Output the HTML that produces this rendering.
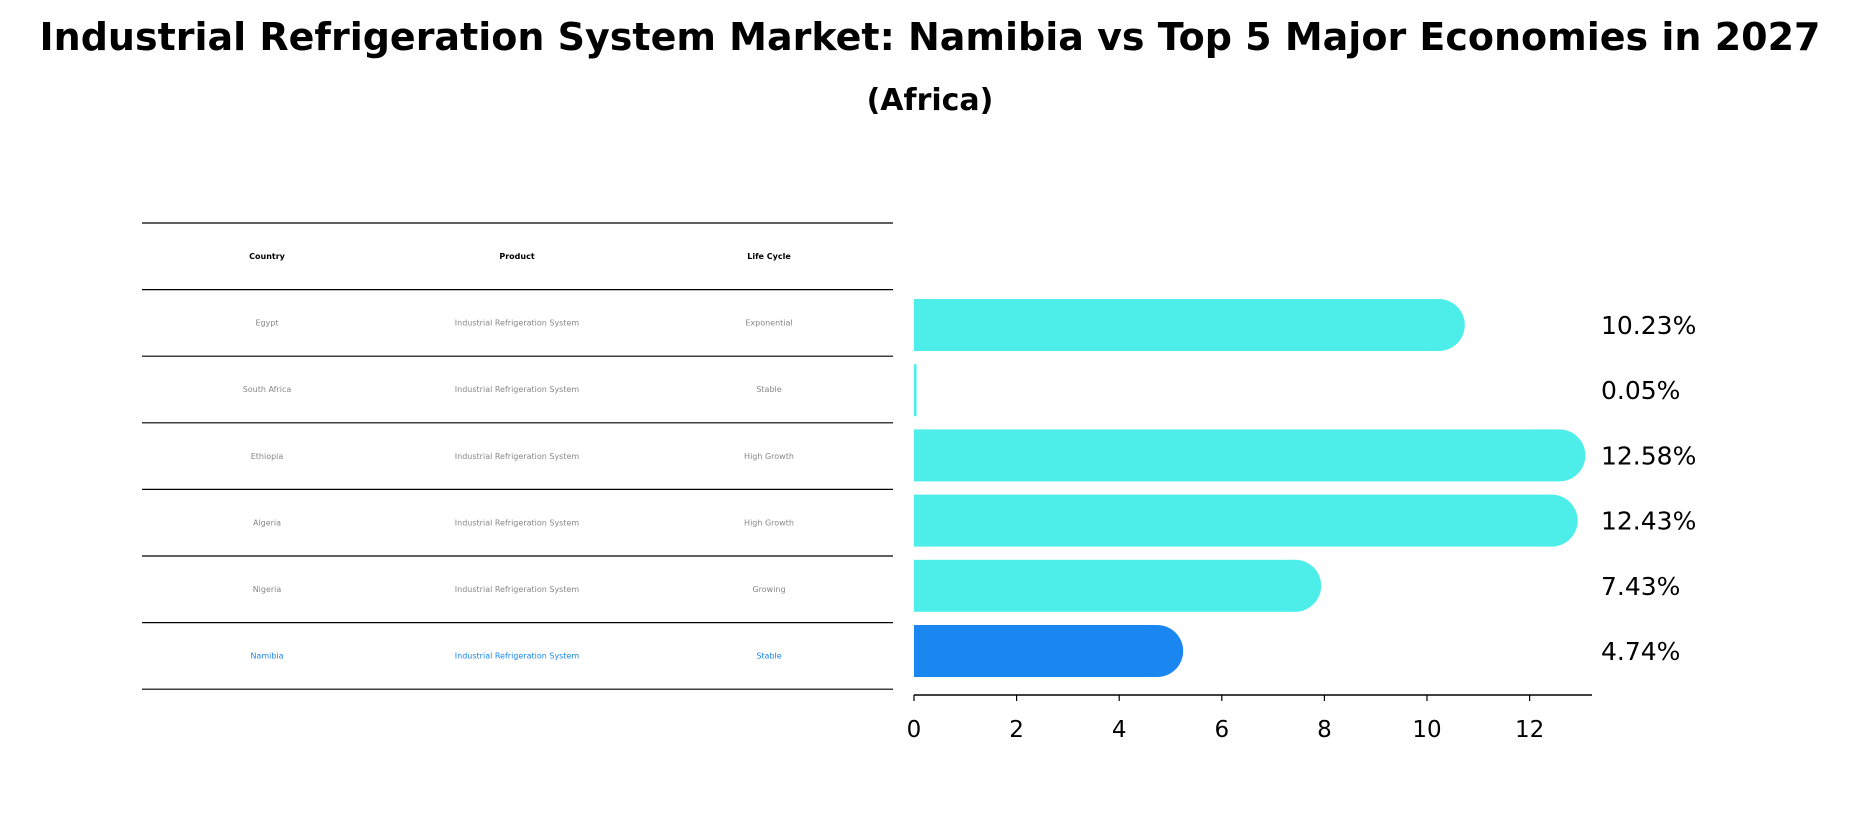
<!DOCTYPE html>
<html><head><meta charset="utf-8"><style>
body{margin:0;background:#fff;font-family:"DejaVu Sans","Liberation Sans",sans-serif}
</style></head><body>
<svg width="1859" height="823" viewBox="0 0 1859 823">
<text x="930" y="50" text-anchor="middle" font-size="38" font-weight="bold" font-family="DejaVu Sans, sans-serif">Industrial Refrigeration System Market: Namibia vs Top 5 Major Economies in 2027</text>
<text x="930" y="110" text-anchor="middle" font-size="30" font-weight="bold" font-family="DejaVu Sans, sans-serif">(Africa)</text>
<g id="table"></g>
<g id="bars"></g>
</svg>
<script>
const countries=["Egypt","South Africa","Ethiopia","Algeria","Nigeria","Namibia"];
const products=["Industrial Refrigeration System","Industrial Refrigeration System","Industrial Refrigeration System","Industrial Refrigeration System","Industrial Refrigeration System","Industrial Refrigeration System"];
const lifecycle=["Exponential","Stable","High Growth","High Growth","Growing","Stable"];
const values=[10.23,0.05,12.58,12.43,7.43,4.74];
const ticks=[0,2,4,6,8,10,12];
const NS="http://www.w3.org/2000/svg";
function mk(t,a,p){const e=document.createElementNS(NS,t);for(const k in a)e.setAttribute(k,a[k]);p.appendChild(e);return e;}
const tbl=document.getElementById('table');
const rowY=i=>223+i*66.6;
for(let i=0;i<=7;i++){const l=mk('line',{x1:142,x2:893,y1:rowY(i),y2:rowY(i),stroke:'#000','stroke-width':1.2},tbl);

}
const colX=[267,517,769];
["Country","Product","Life Cycle"].forEach((h,j)=>{const t=mk('text',{x:colX[j],y:rowY(0)+36,'text-anchor':'middle','font-size':8,'font-weight':'bold'},tbl);t.textContent=h;

});
countries.forEach((c,i)=>{const col=i===countries.length-1?'#1a86f0':'#888';
[c,products[i],lifecycle[i]].forEach((v,j)=>{const t=mk('text',{x:colX[j],y:rowY(i+1)+36,'text-anchor':'middle','font-size':8,fill:col},tbl);t.textContent=v;

});});
const g=document.getElementById('bars');
const x0=914,ppu=51.3,xs=v=>x0+v*ppu;
const by=i=>325+i*65.2,bh=52;
values.forEach((v,i)=>{const col=i===values.length-1?'#1a86f0':'#4deeea';
const grp=mk('g',{},g);


const w=xs(v)-x0;
mk('rect',{x:x0,y:by(i)-bh/2,width:Math.max(w,2),height:bh,fill:col},grp);
if(v>0.5)mk('circle',{cx:xs(v),cy:by(i),r:bh/2,fill:col},grp);
const t=mk('text',{x:1601,y:by(i)+9,'font-size':25},g);t.textContent=v.toFixed(2)+'%';

});
const ax=mk('line',{x1:x0,x2:1592,y1:695,y2:695,stroke:'#000','stroke-width':1.5},g);


ticks.forEach(tv=>{mk('line',{x1:xs(tv),x2:xs(tv),y1:695,y2:701,stroke:'#000','stroke-width':1.2},g);
const t=mk('text',{x:xs(tv),y:737,'text-anchor':'middle','font-size':23},g);t.textContent=tv;

});
</script>
</body></html>
